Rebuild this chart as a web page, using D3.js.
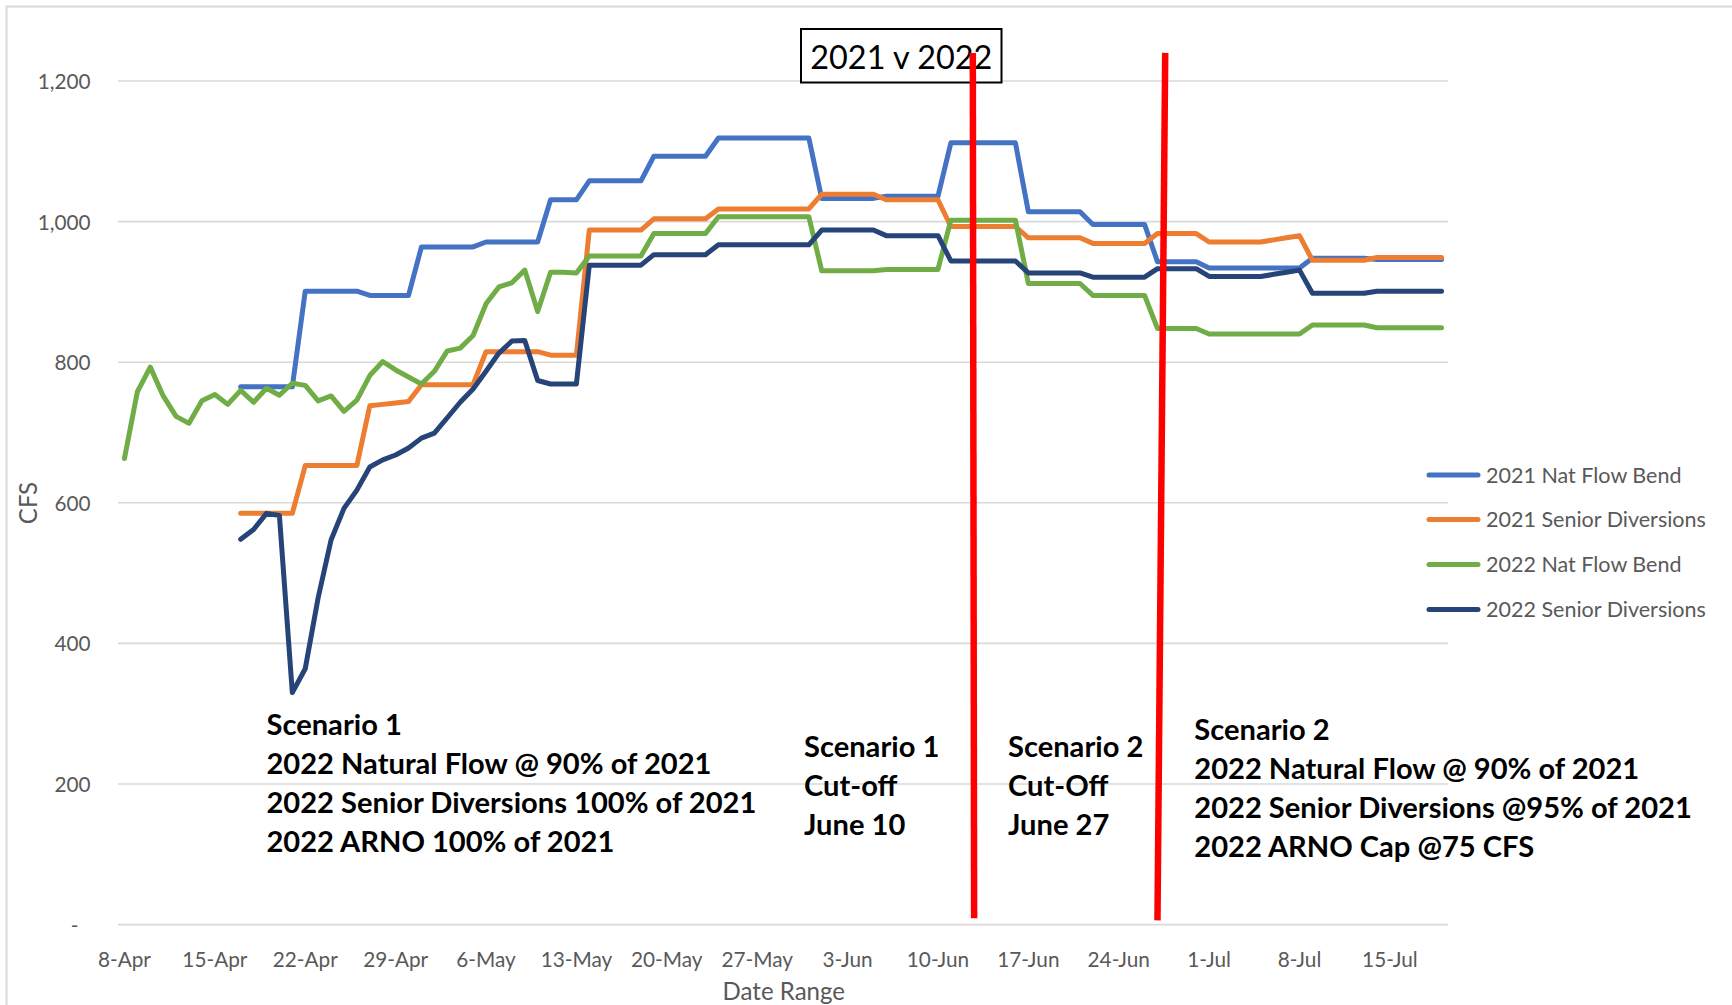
<!DOCTYPE html>
<html>
<head>
<meta charset="utf-8">
<script src="https://cdn.jsdelivr.net/npm/d3@7"></script>
<style>
  html, body { margin: 0; padding: 0; background: #ffffff; }
  svg { display: block; }
</style>
</head>
<body>
<svg id="chart" width="1732" height="1005"></svg>
<script>
// ---------------- DATA ----------------
// Daily categories: 8-Apr .. 19-Jul (103 days)
const categories = d3.timeDay.range(new Date(2022, 3, 8), new Date(2022, 6, 20));

const xTickLabels = ["8-Apr","15-Apr","22-Apr","29-Apr","6-May","13-May","20-May","27-May",
                     "3-Jun","10-Jun","17-Jun","24-Jun","1-Jul","8-Jul","15-Jul"];
const yTicks = [0, 200, 400, 600, 800, 1000, 1200];

const seriesNames = ["2021 Nat Flow Bend", "2021 Senior Diversions", "2022 Nat Flow Bend", "2022 Senior Diversions"];
const seriesColors = ["#4472C4", "#ED7D31", "#70AD47", "#264478"];

const natFlow2021 = [
  null,null,null,null,null,null,null,null,null,
  765,765,765,765,765,
  901,901,901,901,901,
  895,895,895,895,
  964,964,964,964,964,
  971,971,971,971,971,
  1031,1031,1031,
  1058,1058,1058,1058,1058,
  1093,1093,1093,1093,1093,
  1119,1119,1119,1119,1119,1119,1119,1119,
  1033,1033,1033,1033,1033,
  1036,1036,1036,1036,1036,
  1112,1112,1112,1112,1112,1112,
  1014,1014,1014,1014,1014,
  996,996,996,996,996,
  943,943,943,943,
  934,934,934,934,934,934,934,934,
  948,948,948,948,948,
  946,946,946,946,946,946
];

const seniorDiv2021 = [
  null,null,null,null,null,null,null,null,null,
  585,585,585,585,585,
  653,653,653,653,653,
  738,740,742,744,
  768,768,768,768,768,
  815,815,815,815,815,
  810,810,810,
  988,988,988,988,988,
  1004,1004,1004,1004,1004,
  1018,1018,1018,1018,1018,1018,1018,1018,
  1039,1039,1039,1039,1039,
  1031,1031,1031,1031,1031,
  993,993,993,993,993,993,
  977,977,977,977,977,
  969,969,969,969,969,
  983,983,983,983,
  971,971,971,971,971,974,977,980,
  945,945,945,945,945,
  949,949,949,949,949,949
];

const natFlow2022 = [
  663,758,793,752,723,713,745,754,740,
  760,743,763,753,770,
  767,745,752,730,746,
  781,801,789,779,
  769,787,816,820,838,
  883,907,913,931,872,
  928,928,927,
  951,951,951,951,951,
  983,983,983,983,983,
  1007,1007,1007,1007,1007,1007,1007,1007,
  930,930,930,930,930,
  932,932,932,932,932,
  1002,1002,1002,1002,1002,1002,
  912,912,912,912,912,
  895,895,895,895,895,
  848,848,848,848,
  840,840,840,840,840,840,840,840,
  853,853,853,853,853,
  849,849,849,849,849,849
];

const seniorDiv2022 = [
  null,null,null,null,null,null,null,null,null,
  548,562,585,582,330,
  364,465,547,592,618,
  651,661,668,678,
  692,699,721,743,762,
  787,813,830,831,774,
  769,769,769,
  938,938,938,938,938,
  953,953,953,953,953,
  967,967,967,967,967,967,967,967,
  988,988,988,988,988,
  980,980,980,980,980,
  944,944,944,944,944,944,
  927,927,927,927,927,
  921,921,921,921,921,
  933,933,933,933,
  922,922,922,922,922,925,928,931,
  898,898,898,898,898,
  901,901,901,901,901,901
];

// Cut-off marker lines (day offset from 8-Apr, CFS)
const cutoffLines = [
  { d1: 65.7, v1: 1240, d2: 65.8, v2: 9 },
  { d1: 80.6, v1: 1240, d2: 80.0, v2: 6 }
];

const scenario1Lines = ["Scenario 1", "2022 Natural Flow @ 90% of 2021",
                        "2022 Senior Diversions 100% of 2021", "2022 ARNO 100% of 2021"];
const cutoff1Lines = ["Scenario 1", "Cut-off", "June 10"];
const cutoff2Lines = ["Scenario 2", "Cut-Off", "June 27"];
const scenario2Lines = ["Scenario 2", "2022 Natural Flow @ 90% of 2021",
                        "2022 Senior Diversions @95% of 2021", "2022 ARNO Cap @75 CFS"];

// ---------------- CHART ----------------
const FONT = "Lato, 'Liberation Sans', Arial, sans-serif";
const W = 1732, H = 1005;
const plot = { left: 118, right: 1448, top: 81, bottom: 924.6 };

const svg = d3.select("#chart");
svg.append("rect").attr("width", W).attr("height", H).attr("fill", "#fff");
// chart border (cropped at right/bottom in the original)
svg.append("rect").attr("x", 6.5).attr("y", 6.5).attr("width", W + 20).attr("height", H + 20)
   .attr("fill", "none").attr("stroke", "#D9D9D9").attr("stroke-width", 2);

function fitSize(text, weight, target) {
  const t = svg.append("text").attr("font-family", FONT).attr("font-weight", weight)
    .attr("font-size", 100).text(text);
  const w = t.node().getComputedTextLength();
  t.remove();
  return 100 * target / w;
}

const fmtCat = d3.timeFormat("%-d-%b");
const catLabels = categories.map(fmtCat);

const x = d3.scaleBand().domain(catLabels).range([plot.left, plot.right]).padding(0);
const xc = lbl => x(lbl) + x.bandwidth() / 2;
const xLin = d3.scaleLinear().domain([-0.5, categories.length - 0.5]).range([plot.left, plot.right]);
const y = d3.scaleLinear().domain([0, 1200]).range([plot.bottom, plot.top]);

const tickSize = fitSize("15-Apr", 400, 65);
const legendSize = fitSize("2021 Senior Diversions", 400, 220);
const boldSize = fitSize("2022 Senior Diversions 100% of 2021", 700, 490);
const titleSize = fitSize("2021 v 2022", 400, 182);
const axisTitleSize = fitSize("Date Range", 400, 122.5);

// gridlines
svg.append("g").selectAll("line").data(yTicks).join("line")
  .attr("x1", plot.left).attr("x2", plot.right)
  .attr("y1", d => y(d)).attr("y2", d => y(d))
  .attr("stroke", "#D9D9D9").attr("stroke-width", 1.6);

// y axis labels
const yAxis = d3.axisLeft(y).tickValues(yTicks).tickSize(0)
  .tickFormat(d => d === 0 ? "-" : d3.format(",")(d));
const gy = svg.append("g").attr("transform", `translate(${plot.left - 24.5},0)`).call(yAxis);
gy.select(".domain").remove();
gy.selectAll("text").attr("font-family", FONT).attr("font-size", tickSize).attr("fill", "#595959")
  .attr("dy", null).attr("dominant-baseline", "auto")
  .attr("y", 7.5)
  .attr("dx", d => d === 0 ? -12 : 0);

// x axis labels
const xAxis = d3.axisBottom(x).tickValues(xTickLabels).tickSize(0);
const gx = svg.append("g").attr("transform", `translate(0,${plot.bottom})`).call(xAxis);
gx.select(".domain").remove();
gx.selectAll("text").attr("font-family", FONT).attr("font-size", tickSize).attr("fill", "#595959")
  .attr("dy", null).attr("y", 42);

// axis titles
svg.append("text").attr("x", 783.8).attr("y", 999.5).attr("text-anchor", "middle")
  .attr("font-family", FONT).attr("font-size", axisTitleSize).attr("fill", "#595959").text("Date Range");
svg.append("text").attr("transform", "translate(36.5,503) rotate(-90)").attr("text-anchor", "middle")
  .attr("font-family", FONT).attr("font-size", axisTitleSize).attr("fill", "#595959").text("CFS");

// series lines
const allSeries = [natFlow2021, seniorDiv2021, natFlow2022, seniorDiv2022];
const line = d3.line()
  .defined(d => d.v !== null)
  .x(d => xc(d.c))
  .y(d => y(d.v));
svg.append("g").selectAll("path").data(allSeries).join("path")
  .attr("d", s => line(s.map((v, i) => ({ c: catLabels[i], v }))))
  .attr("fill", "none")
  .attr("stroke", (s, i) => seriesColors[i])
  .attr("stroke-width", 5)
  .attr("stroke-linejoin", "round")
  .attr("stroke-linecap", "round");

// bold annotation blocks
const lineStep = 39.1;
function block(lines, px, baseline) {
  const t = svg.append("text").attr("font-family", FONT).attr("font-weight", 700)
    .attr("font-size", boldSize).attr("fill", "#000");
  lines.forEach((s, i) => {
    t.append("tspan").attr("x", px).attr("y", baseline + i * lineStep).text(s);
  });
}
block(scenario1Lines, 266.5, 735);
block(cutoff1Lines, 804, 757);
block(cutoff2Lines, 1008, 757);
block(scenario2Lines, 1194.3, 739.5);

// legend
const legendY = [475, 519.5, 564.5, 609.5];
const lg = svg.append("g");
seriesNames.forEach((name, i) => {
  lg.append("line").attr("x1", 1429).attr("x2", 1478).attr("y1", legendY[i]).attr("y2", legendY[i])
    .attr("stroke", seriesColors[i]).attr("stroke-width", 5).attr("stroke-linecap", "round");
  lg.append("text").attr("x", 1486).attr("y", legendY[i] + legendSize * 0.36)
    .attr("font-family", FONT).attr("font-size", legendSize).attr("fill", "#595959").text(name);
});

// title box
svg.append("rect").attr("x", 801).attr("y", 29).attr("width", 200.5).attr("height", 53.5)
  .attr("fill", "#fff").attr("stroke", "#000").attr("stroke-width", 2);
svg.append("text").attr("x", 901.3).attr("y", 69).attr("text-anchor", "middle")
  .attr("font-family", FONT).attr("font-size", titleSize).attr("fill", "#000").text("2021 v 2022");

// red cut-off lines (on top)
svg.append("g").selectAll("line").data(cutoffLines).join("line")
  .attr("x1", d => xLin(d.d1)).attr("y1", d => y(d.v1))
  .attr("x2", d => xLin(d.d2)).attr("y2", d => y(d.v2))
  .attr("stroke", "#FF0000").attr("stroke-width", 6.5);
</script>
</body>
</html>
